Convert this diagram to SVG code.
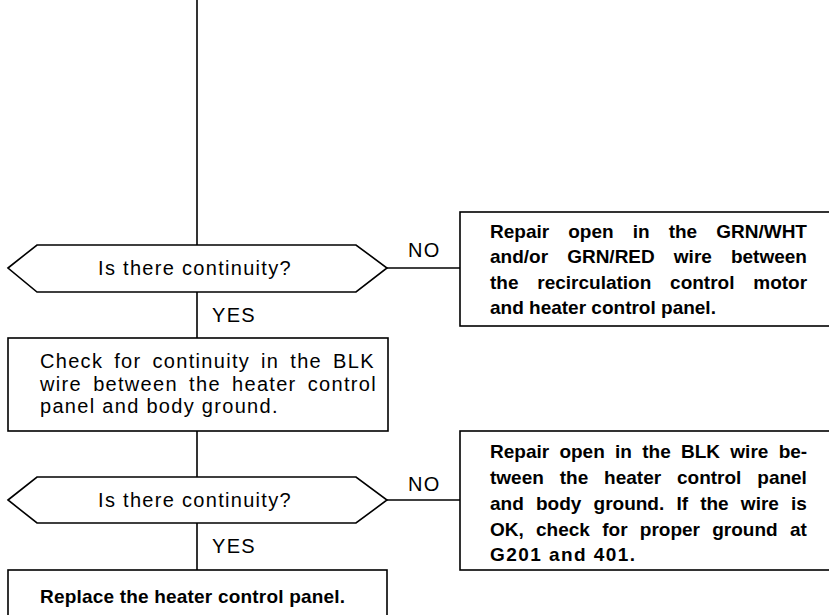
<svg xmlns="http://www.w3.org/2000/svg" width="829" height="615" viewBox="0 0 829 615">
<style>
.shape{fill:#fff;stroke:#000;stroke-width:1.6}
.conn{fill:none;stroke:#000;stroke-width:1.6}
.r{font-family:"Liberation Sans",Arial,sans-serif;font-size:20px;letter-spacing:1.3px;fill:#000}
.b{font-family:"Liberation Sans",Arial,sans-serif;font-size:19px;font-weight:bold;fill:#000}
.c{text-anchor:middle}
</style>
<rect width="829" height="615" fill="#fff"/>
<g id="connectors">
<line class="conn" x1="197" y1="0" x2="197" y2="245"/>
<line class="conn" x1="387" y1="268" x2="460" y2="268"/>
<line class="conn" x1="197" y1="292" x2="197" y2="338"/>
<line class="conn" x1="197" y1="431" x2="197" y2="477"/>
<line class="conn" x1="387" y1="500" x2="460" y2="500"/>
<line class="conn" x1="197" y1="523" x2="197" y2="570"/>
<text class="r" x="408" y="257">NO</text>
<text class="r" x="212" y="322">YES</text>
<text class="r" x="408" y="491">NO</text>
<text class="r" x="212" y="553">YES</text>
</g>
<g id="decision1">
<polygon class="shape" points="8,268 37,245 356,245 387,268 356,292 37,292"/>
<text class="r c" x="195" y="275">Is there continuity?</text>
</g>
<g id="repair1">
<rect class="shape" x="460" y="212" width="400" height="114"/>
<text class="b" x="490" y="238" word-spacing="13.8">Repair open in the GRN/WHT</text>
<text class="b" x="490" y="263" word-spacing="13.8">and/or GRN/RED wire between</text>
<text class="b" x="490" y="289" word-spacing="13.5">the recirculation control motor</text>
<text class="b" x="490" y="314">and heater control panel.</text>
</g>
<g id="check">
<rect class="shape" x="8" y="338" width="380" height="93"/>
<text class="r" x="40" y="368" word-spacing="4.2">Check for continuity in the BLK</text>
<text class="r" x="40" y="390.5" word-spacing="4.4">wire between the heater control</text>
<text class="r" x="40" y="413">panel and body ground.</text>
</g>
<g id="decision2">
<polygon class="shape" points="8,500 37,477 356,477 387,500 356,523 37,523"/>
<text class="r c" x="195" y="507">Is there continuity?</text>
</g>
<g id="repair2">
<rect class="shape" x="460" y="431" width="400" height="139"/>
<text class="b" x="490" y="458" word-spacing="5">Repair open in the BLK wire be-</text>
<text class="b" x="490" y="484" word-spacing="10.6">tween the heater control panel</text>
<text class="b" x="490" y="510" word-spacing="6.9">and body ground. If the wire is</text>
<text class="b" x="490" y="536" word-spacing="7">OK, check for proper ground at</text>
<text class="b" x="490" y="561" textLength="145" lengthAdjust="spacing">G201 and 401.</text>
</g>
<g id="replace">
<rect class="shape" x="8" y="570" width="379" height="60"/>
<text class="b" x="40" y="603" textLength="305" lengthAdjust="spacing">Replace the heater control panel.</text>
</g>
</svg>
